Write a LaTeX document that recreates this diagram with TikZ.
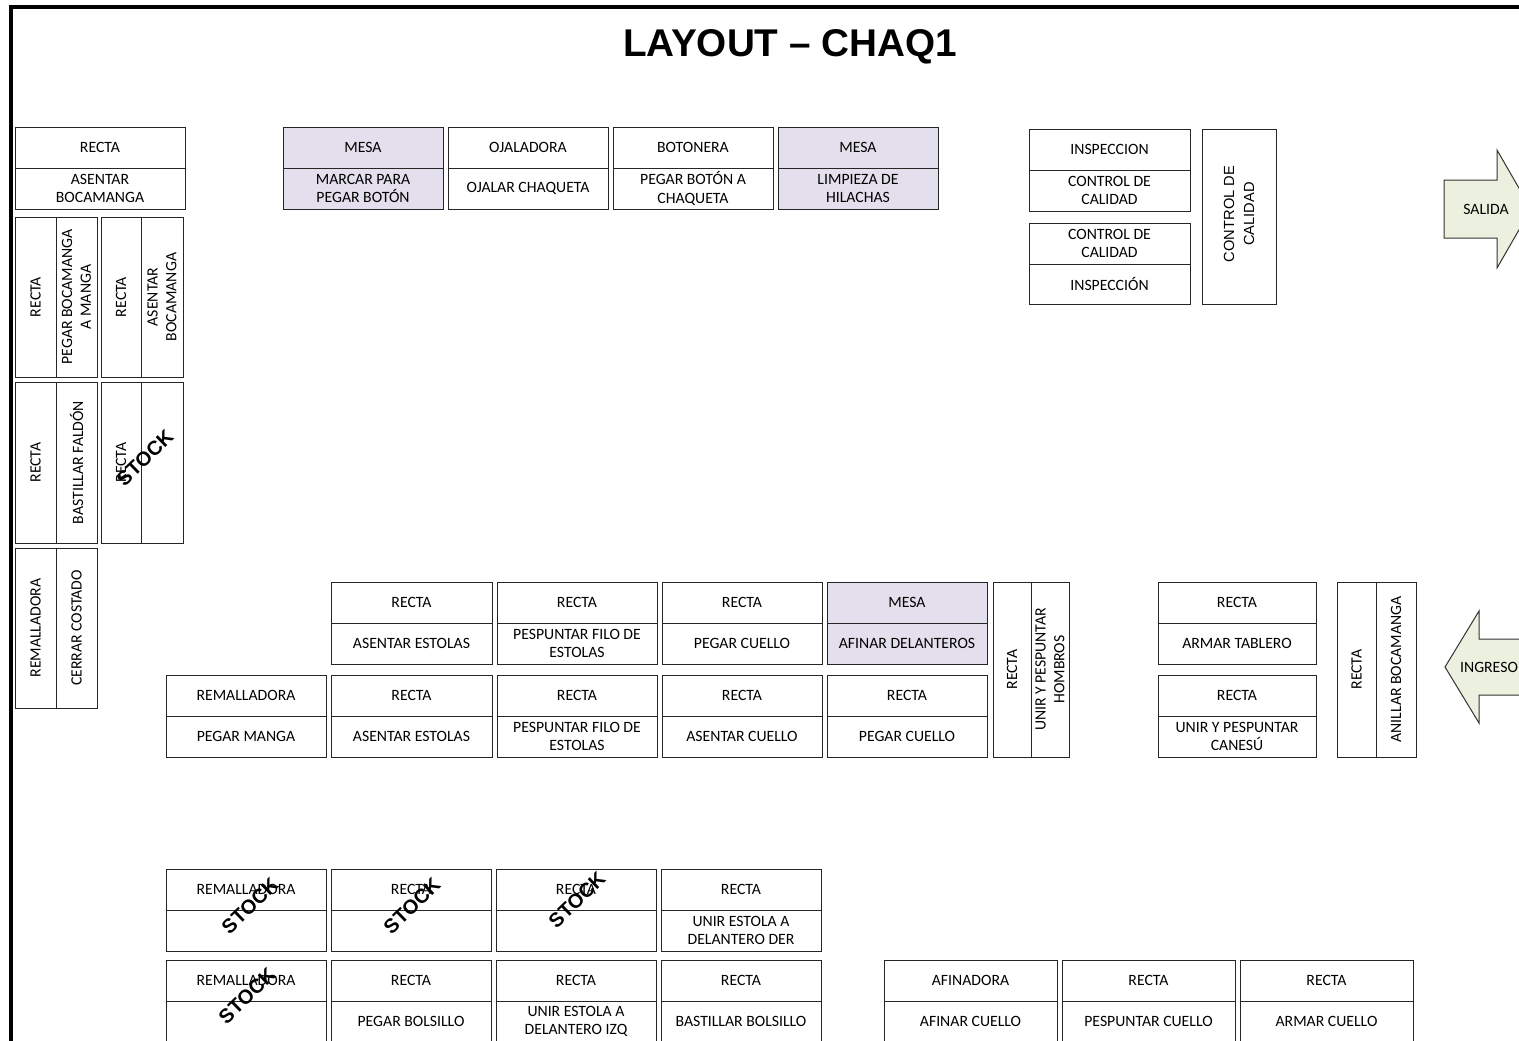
\documentclass[tikz,border=0pt]{standalone}
\usepackage{fontspec}
\setmainfont{Carlito}
\newfontfamily\arialfont{Liberation Sans}
\definecolor{mesafill}{HTML}{E4DFEC}
\definecolor{arrowgreen}{HTML}{EBF1DE}
\tikzset{
  boxline/.style={draw=black!85, line width=0.75pt},
  lbl/.style={font=\fontsize{11.8}{14}\selectfont, align=center, inner sep=0pt},
  vlbl/.style={lbl, rotate=90},
  stocklbl/.style={font=\arialfont\bfseries\fontsize{15}{17}\selectfont, rotate=44, inner sep=0pt},
  arrowshape/.style={draw=black!80, line width=0.75pt, fill=arrowgreen, line join=miter},
}
% name, fill, x1, y1, x2, y2, ymid, top text, bottom text
\newcommand{\hstation}[9]{%
  \draw[boxline, fill=#2] (#3,#4) rectangle (#5,#6);
  \draw[boxline] (#3,#7) -- (#5,#7);
  \node[lbl] (#1t) at ({(#3+#5)/2},{(#4+#7)/2}) {#8};
  \node[lbl] (#1b) at ({(#3+#5)/2},{(#7+#6)/2}) {#9};
}
% name, x1, y1, x2, y2, xmid, left text, right text
\newcommand{\vstation}[8]{%
  \draw[boxline, fill=white] (#2,#3) rectangle (#4,#5);
  \draw[boxline] (#6,#3) -- (#6,#5);
  \node[vlbl] (#1l) at ({(#2+#6)/2},{(#3+#5)/2}) {#7};
  \node[vlbl] (#1r) at ({(#6+#4)/2},{(#3+#5)/2}) {#8};
}
\begin{document}
\begin{tikzpicture}[x=0.75pt,y=-0.75pt]
\useasboundingbox (0,0) rectangle (1519,1040);
\clip (0,0) rectangle (1519,1040);
\fill[white] (0,0) rectangle (1519,1040);

% frame
\draw[line width=3pt] (11,1050) -- (11,7) -- (1530,7);

% title
\node[font=\arialfont\bfseries\fontsize{29}{34}\selectfont, inner sep=0pt] (title) at (790,47) {LAYOUT – CHAQ1};

% ---- top left
\hstation{tl}{white}{15}{127}{185}{209}{168}{RECTA}{ASENTAR\\BOCAMANGA}
\vstation{va}{15}{217}{97}{377}{56}{RECTA}{PEGAR BOCAMANGA\\A MANGA}
\vstation{vb}{101}{217}{183}{377}{141}{RECTA}{ASENTAR\\BOCAMANGA}
\vstation{vc}{15}{382}{97}{543}{56}{RECTA}{BASTILLAR FALDÓN}
\vstation{vd}{101}{382}{183}{543}{141}{RECTA}{}
\vstation{ve}{15}{548}{97}{708}{56}{REMALLADORA}{CERRAR COSTADO}

% ---- top middle
\hstation{m1}{mesafill}{283}{127}{443}{209}{168}{MESA}{MARCAR PARA\\PEGAR BOTÓN}
\hstation{m2}{white}{448}{127}{608}{209}{168}{OJALADORA}{OJALAR CHAQUETA}
\hstation{m3}{white}{613}{127}{773}{209}{168}{BOTONERA}{PEGAR BOTÓN A\\CHAQUETA}
\hstation{m4}{mesafill}{778}{127}{938}{209}{168}{MESA}{LIMPIEZA DE\\HILACHAS}

% ---- top right
\hstation{q1}{white}{1029}{129}{1190}{211}{170}{INSPECCION}{CONTROL DE\\CALIDAD}
\hstation{q2}{white}{1029}{223}{1190}{304}{264}{CONTROL DE\\CALIDAD}{INSPECCIÓN}
\draw[boxline, fill=white] (1202,129) rectangle (1276,304);
\node[font=\arialfont\fontsize{11}{15}\selectfont, rotate=90, align=center, inner sep=0pt] (q3) at (1239,214) {CONTROL DE\\CALIDAD};

% SALIDA arrow
\draw[arrowshape] (1444,180) -- (1497,180) -- (1497,150) -- (1531,209) -- (1497,268) -- (1497,238) -- (1444,238) -- cycle;
\node[lbl] (salida) at (1486,209) {SALIDA};

% ---- middle block
\hstation{r1a}{white}{331}{582}{492}{664}{623}{RECTA}{ASENTAR ESTOLAS}
\hstation{r1b}{white}{497}{582}{657}{664}{623}{RECTA}{PESPUNTAR FILO DE\\ESTOLAS}
\hstation{r1c}{white}{662}{582}{822}{664}{623}{RECTA}{PEGAR CUELLO}
\hstation{r1d}{mesafill}{827}{582}{987}{664}{623}{MESA}{AFINAR DELANTEROS}
\hstation{r2a}{white}{166}{675}{326}{757}{716}{REMALLADORA}{PEGAR MANGA}
\hstation{r2b}{white}{331}{675}{492}{757}{716}{RECTA}{ASENTAR ESTOLAS}
\hstation{r2c}{white}{497}{675}{657}{757}{716}{RECTA}{PESPUNTAR FILO DE\\ESTOLAS}
\hstation{r2d}{white}{662}{675}{822}{757}{716}{RECTA}{ASENTAR CUELLO}
\hstation{r2e}{white}{827}{675}{987}{757}{716}{RECTA}{PEGAR CUELLO}
\vstation{vf}{993}{582}{1069}{757}{1031}{RECTA}{UNIR Y PESPUNTAR\\HOMBROS}

% ---- middle right
\hstation{s1}{white}{1158}{582}{1316}{664}{623}{RECTA}{ARMAR TABLERO}
\hstation{s2}{white}{1158}{675}{1316}{757}{716}{RECTA}{UNIR Y PESPUNTAR\\CANESÚ}
\vstation{vg}{1337}{582}{1416}{757}{1376}{RECTA}{ANILLAR BOCAMANGA}

% INGRESO arrow
\draw[arrowshape] (1445,667) -- (1479,611) -- (1479,639) -- (1535,639) -- (1535,695) -- (1479,695) -- (1479,723) -- cycle;
\node[lbl] (ingreso) at (1489,667) {INGRESO};

% ---- bottom block
\hstation{b1a}{white}{166}{869}{326}{951}{910}{REMALLADORA}{}
\hstation{b1b}{white}{331}{869}{491}{951}{910}{RECTA}{}
\hstation{b1c}{white}{496}{869}{656}{951}{910}{RECTA}{}
\hstation{b1d}{white}{661}{869}{821}{951}{910}{RECTA}{UNIR ESTOLA A\\DELANTERO DER}
\hstation{b2a}{white}{166}{960}{326}{1042}{1001}{REMALLADORA}{}
\hstation{b2b}{white}{331}{960}{491}{1042}{1001}{RECTA}{PEGAR BOLSILLO}
\hstation{b2c}{white}{496}{960}{656}{1042}{1001}{RECTA}{UNIR ESTOLA A\\DELANTERO IZQ}
\hstation{b2d}{white}{661}{960}{821}{1042}{1001}{RECTA}{BASTILLAR BOLSILLO}

\hstation{c1}{white}{884}{960}{1057}{1042}{1001}{AFINADORA}{AFINAR CUELLO}
\hstation{c2}{white}{1062}{960}{1235}{1042}{1001}{RECTA}{PESPUNTAR CUELLO}
\hstation{c3}{white}{1240}{960}{1413}{1042}{1001}{RECTA}{ARMAR CUELLO}

% STOCK marks
\node[stocklbl] (st1) at (145,458) {STOCK};
\node[stocklbl] (st2) at (250,906) {STOCK};
\node[stocklbl] (st3) at (412,906) {STOCK};
\node[stocklbl] (st4) at (577,900) {STOCK};
\node[stocklbl] (st5) at (247,996) {STOCK};
\end{tikzpicture}
\end{document}
